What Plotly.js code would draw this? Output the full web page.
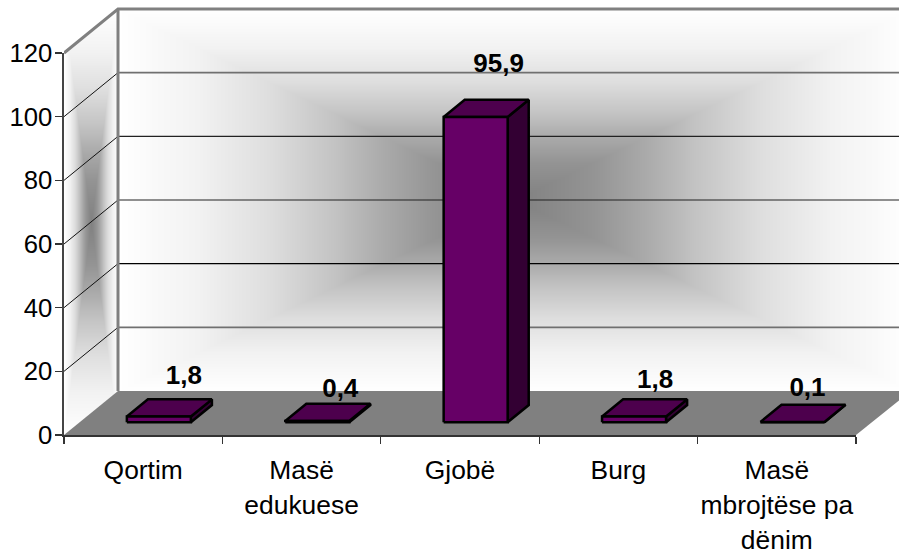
<!DOCTYPE html>
<html><head><meta charset="utf-8">
<script src="https://cdn.plot.ly/plotly-3.0.1.min.js"></script>
<style>html,body{margin:0;padding:0;background:#fff}#c{width:899px;height:555px}</style>
</head><body><div id="c"></div>
<script>
const categories=["Qortim","Masë<br>edukuese","Gjobë","Burg","Masë<br>mbrojtëse pa<br>dënim"];
const values=[1.8,0.4,95.9,1.8,0.1];
const yTicks=[0,20,40,60,80,100,120];
const gridLevels=[20,40,60,80,100];
const gridColors=['#707070','#000000','#222222','#222222','#707070'];
const gridWidths=[1.6,1.1,1.1,1.1,1.6];
const labelLift=[22,13,34,18,15];     // px above the bar's back top edge
const labelShift=[25,23,23,21,15];    // px from the front face's centre

const W=899,H=555,L=64,R=856,T=53,B=435,TOP=6;
const pxX=(R-L)/5, pxY=(B-T)/120;
const depthX=54/pxX, depthY=44/pxY;
const barW=0.404, frontD=0.29, backD=0.68;
const xMax=(W-L)/pxX, yMax=(B-TOP)/pxY;
const xEnd=5+(W+12-R)/pxX;
const traces=[];
function poly(xs,ys,fill,line,lw){traces.push({type:'scatter',mode:'lines',x:[...xs,xs[0]],y:[...ys,ys[0]],fill:'toself',fillcolor:fill,
  line:{color:line||fill,width:line?lw:0},hoverinfo:'skip',showlegend:false});}
function path(xs,ys,color,w){traces.push({type:'scatter',mode:'lines',x:xs,y:ys,line:{color:color,width:w},hoverinfo:'skip',showlegend:false});}

// floor
poly([0,depthX,xEnd,5],[0,depthY,depthY,0],'#808080');
// grid
gridLevels.forEach((v,i)=>{
  path([0,depthX],[v,v+depthY],'#111',1);
  path([depthX,xEnd],[v+depthY,v+depthY],gridColors[i],gridWidths[i]);
});
// walls outline
path([0,depthX,xEnd],[120,120+depthY,120+depthY],'#808080',3);
path([depthX,depthX],[depthY,120+depthY],'#808080',3);
// bars
values.forEach((v,i)=>{
  const x0=i+(1-barW)/2+frontD*depthX, x1=x0+barW, y0=frontD*depthY, y1=y0+v;
  const dx=(backD-frontD)*depthX, dy=(backD-frontD)*depthY;
  poly([x1,x1+dx,x1+dx,x1],[y0,y0+dy,y1+dy,y1],'#330033','#000',2.5);
  poly([x0,x0+dx,x1+dx,x1],[y1,y1+dy,y1+dy,y1],'#4d004d','#000',2.5);
  poly([x0,x1,x1,x0],[y0,y0,y1,y1],'#660066','#000',2.5);
});
// data labels
traces.push({type:'scatter',mode:'text',
  x:values.map((v,i)=>i+(1-barW)/2+frontD*depthX+barW/2+labelShift[i]/pxX),
  y:values.map((v,i)=>frontD*depthY+v+(backD-frontD)*depthY+labelLift[i]/pxY),
  text:values.map(v=>'<b>'+v.toFixed(1).replace('.',',')+'</b>'),
  textposition:'middle center',textfont:{family:'Liberation Sans',size:26,color:'#000'},
  cliponaxis:false,hoverinfo:'skip',showlegend:false});
// carrier for the labelled axes
traces.push({type:'scatter',mode:'none',x:[0,5],y:[0,120],xaxis:'x2',yaxis:'y2',hoverinfo:'skip',showlegend:false});

// wall shading
function shade(w,h,cx,cy,hx,hy,inside){
  const c=document.createElement('canvas');c.width=w;c.height=h;const g=c.getContext('2d');const im=g.createImageData(w,h);
  const stops=[[0,128],[.2,148],[.33,170],[.46,196],[.62,222],[.8,242],[1,255]];
  for(let y=0;y<h;y++)for(let x=0;x<w;x++){
    if(inside&&!inside(x,y))continue;
    const t=Math.min(1,Math.max(Math.abs(x-cx)/hx,Math.abs(y-cy)/hy));
    let k=0;while(k<stops.length-2&&t>stops[k+1][0])k++;
    const s=stops[k],e=stops[k+1],val=s[1]+(e[1]-s[1])*(t-s[0])/(e[0]-s[0]);
    const p=(y*w+x)*4;im.data[p]=im.data[p+1]=im.data[p+2]=val;im.data[p+3]=255;
  }
  g.putImageData(im,0,0);return c.toDataURL();
}
const wallL=L+54, wallT=T-44, wallB=B-44, wallR=W+12;
const PW=W-L, PH=B-TOP;
const paperX=p=>(p-L)/PW, paperY=p=>(B-p)/PH;
const images=[
 {source:shade(wallR-wallL,wallB-wallT,(wallR-wallL)/2,(wallB-wallT)/2,(wallR-wallL)/2,(wallB-wallT)/2),
  xref:'paper',yref:'paper',x:paperX(wallL),y:paperY(wallT),sizex:(wallR-wallL)/PW,sizey:(wallB-wallT)/PH,xanchor:'left',yanchor:'top',sizing:'stretch',layer:'below'},
 {source:shade(54,B-wallT,27,(B-wallT)/2,27,(B-wallT)/2,(x,y)=>{const top=T-wallT-x*44/54;const bot=(B-wallT)-x*44/54;return y>=top&&y<=bot;}),
  xref:'paper',yref:'paper',x:paperX(L),y:paperY(wallT),sizex:54/PW,sizey:(B-wallT)/PH,xanchor:'left',yanchor:'top',sizing:'stretch',layer:'below'}
];

const layout={width:W,height:H,margin:{l:L,r:0,t:TOP,b:H-B},paper_bgcolor:'#fff',plot_bgcolor:'rgba(0,0,0,0)',showlegend:false,images:images,
 font:{family:'Liberation Sans',color:'#000'},
 xaxis:{range:[0,xMax],domain:[0,1],visible:false,anchor:'y'},
 yaxis:{range:[0,yMax],domain:[0,1],visible:false,anchor:'x'},
 xaxis2:{anchor:'y2',domain:[0,(R-L)/PW],range:[0,5],tickmode:'array',tickvals:categories.map((c,i)=>i+.5),
   ticktext:categories.map(c=>'<span style="font-size:26.4px">'+c+'</span>'),
   ticks:'outside',ticklen:10,tickcolor:'rgba(0,0,0,0)',tickfont:{family:'Liberation Sans',size:27,color:'#000'},
   showgrid:false,zeroline:false,showline:true,linecolor:'#333',linewidth:1.6,tickangle:0,
   minor:{tickmode:'array',tickvals:[0,1,2,3,4,5],ticks:'outside',ticklen:7,tickcolor:'#333',tickwidth:1.3,showgrid:false}},
 yaxis2:{anchor:'x2',domain:[0,(B-T)/PH],range:[0,120],tickmode:'array',tickvals:yTicks,ticks:'outside',ticklen:7,tickcolor:'#333',tickwidth:1.3,ticklabelstandoff:-2,
   tickfont:{family:'Liberation Sans',size:25.7,color:'#000'},showgrid:false,zeroline:false,showline:true,linecolor:'#444',linewidth:1.6}};
Plotly.newPlot('c',traces,layout,{displayModeBar:false,staticPlot:true});
</script></body></html>
